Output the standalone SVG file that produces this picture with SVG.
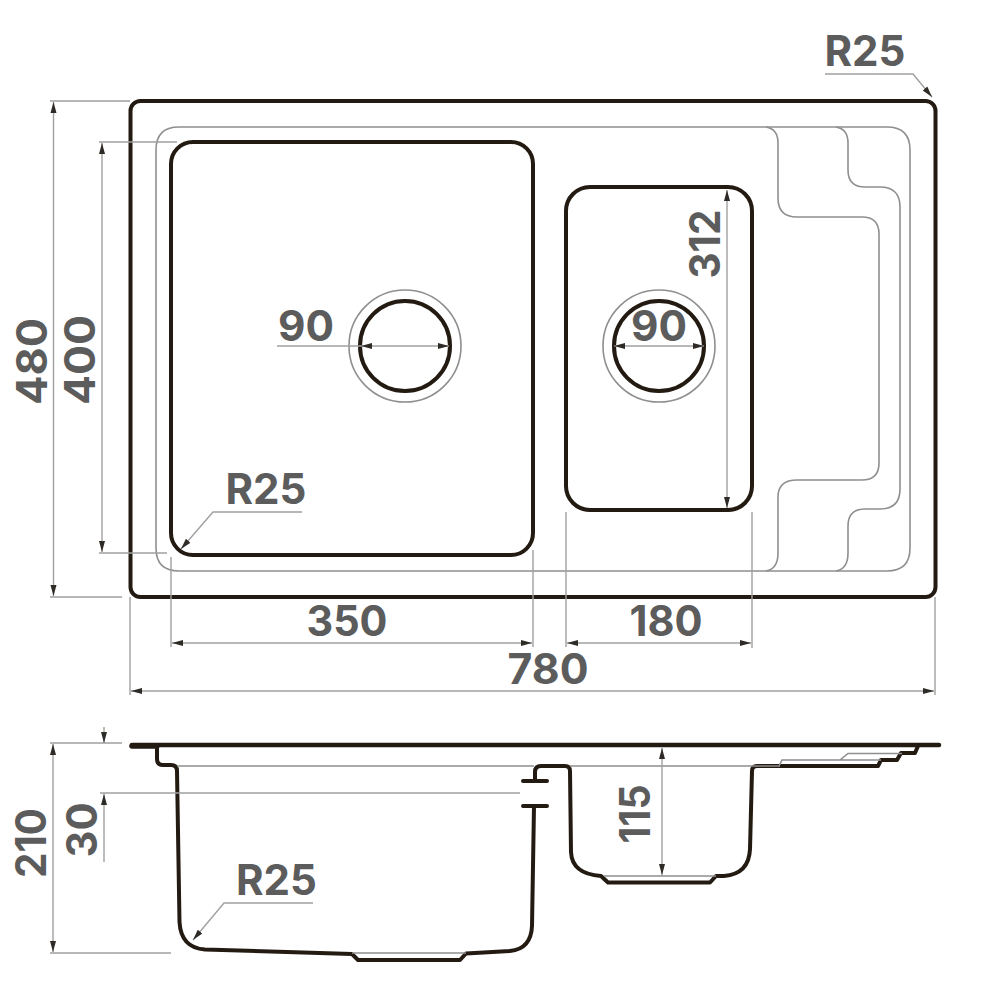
<svg xmlns="http://www.w3.org/2000/svg" width="1000" height="1000" viewBox="0 0 1000 1000">
<style>
.k{fill:none;stroke:#231a12;stroke-width:4;stroke-linejoin:round;stroke-linecap:round}
.g{fill:none;stroke:#8f8f8f;stroke-width:1.6}
.d{fill:none;stroke:#a0a0a0;stroke-width:1.4}
.a{marker-start:url(#ar);marker-end:url(#ar)}
.t{font-family:"Inter","Liberation Sans",sans-serif;font-weight:700;font-size:42px;fill:#5c5c5c;text-anchor:middle}
</style>
<defs>
<marker id="ar" markerUnits="userSpaceOnUse" markerWidth="14" markerHeight="8" refX="11" refY="4" orient="auto-start-reverse">
<path d="M0 1 L11 4 L0 7 Z" fill="#2e2a26"/>
</marker>
</defs>
<rect width="1000" height="1000" fill="#fff"/>

<g id="plan">
<rect class="k" x="130.500" y="101" width="805" height="496" rx="10"/>
<path class="g" d="M179 127H887Q910 127 910 150V548Q910 571 887 571H179Q156 571 156 548V150Q156 127 179 127Z"/>
<path class="g" d="M766 127Q778 129 778 143V198Q778 217 797 217H862Q879 217 879 234V463Q879 480 862 480H797Q778 480 778 497V553Q778 569 766 571"/>
<path class="g" d="M836 127Q848 129 848 143V170Q848 187 865 187H880Q900 187 900 207V489Q900 509 880 509H865Q848 509 848 526V553Q848 569 836 571"/>
<rect class="k" x="171" y="142" width="362" height="413" rx="22"/>
<rect class="k" x="566" y="187" width="186" height="323" rx="24"/>
<circle class="k" cx="405" cy="346" r="45"/>
<circle class="g" cx="405" cy="346" r="56"/>
<circle class="k" cx="659" cy="346" r="45"/>
<circle class="g" cx="659" cy="346" r="56"/>
</g>

<g id="section">
<path class="k" d="M132 745H939" style="stroke-width:4.500"/>
<path class="k" d="M132 746H157" style="stroke-width:5.500"/>
<path class="k" d="M157 747V759Q157 765 163 765H171Q177 765 177 771L179.500 922Q181 948 205 949.500L352 954L358 960H460L466 953.500L510 951Q531 949 532 926L534 806"/>
<path class="k" d="M523 806H547M523 781H547M535 781V772Q535 766 541 766H565Q570 766 570 771L571 852Q572 874 601 876L608 882.500H710L716 876H724Q749 874 750 849L752 771Q752 766 757 766H878L881 760H897L901 753H915L918 746"/>
<path class="g" d="M177 766H534M570 766H780M352 953H466M604 876H716"/>
<path class="g" d="M779 766L782 760H840L848 753.500H902M840 760H881"/>
</g>

<g id="connectors">
<path class="d" d="M50 101H130M50 597H122M99 142H177M99 553H167M171 557V647M533 550V647M566 512V647M752 512V648M130 597V695M935 597V695M50 743H122M50 953H171M100 743H122M100 793H520"/>
<line class="d a" x1="53.500" y1="102" x2="53.500" y2="596"/>
<line class="d a" x1="102" y1="143" x2="102" y2="552"/>
<line class="d a" x1="172" y1="643" x2="532" y2="643"/>
<line class="d a" x1="567" y1="643" x2="751" y2="643"/>
<line class="d a" x1="131" y1="691" x2="934" y2="691"/>
<line class="d a" x1="361" y1="346" x2="449" y2="346"/>
<line class="d" x1="277" y1="346" x2="361" y2="346"/>
<line class="d a" x1="614" y1="346" x2="704" y2="346"/>
<line class="d a" x1="727" y1="190" x2="727" y2="508"/>
<line class="d a" x1="53" y1="744" x2="53" y2="952"/>
<line class="d a" x1="662" y1="748" x2="662" y2="875"/>
<line class="d" x1="104" y1="727" x2="104" y2="743" marker-end="url(#ar)"/>
<line class="d" x1="104" y1="862" x2="104" y2="794" marker-end="url(#ar)"/>
<polyline class="d" points="825,74 913,74 932,97" marker-end="url(#ar)"/>
<polyline class="d" points="302,512 213,512 181,549" marker-end="url(#ar)"/>
<polyline class="d" points="313,903 224,903 193,940" marker-end="url(#ar)"/>
</g>

<g id="labels">
<text class="t" x="865" y="66" textLength="81" lengthAdjust="spacingAndGlyphs">R25</text>
<text class="t" x="266" y="504" textLength="81" lengthAdjust="spacingAndGlyphs">R25</text>
<text class="t" x="276.500" y="895" textLength="81" lengthAdjust="spacingAndGlyphs">R25</text>
<text class="t" x="347" y="636" textLength="81" lengthAdjust="spacingAndGlyphs">350</text>
<text class="t" x="666" y="636" textLength="73" lengthAdjust="spacingAndGlyphs">180</text>
<text class="t" x="548" y="684" textLength="81" lengthAdjust="spacingAndGlyphs">780</text>
<text class="t" x="306" y="341" textLength="56" lengthAdjust="spacingAndGlyphs">90</text>
<text class="t" x="659" y="341" textLength="56" lengthAdjust="spacingAndGlyphs">90</text>
<text class="t" transform="translate(47 361.500) rotate(-90)" textLength="87" lengthAdjust="spacingAndGlyphs">480</text>
<text class="t" transform="translate(95 360) rotate(-90)" textLength="90" lengthAdjust="spacingAndGlyphs">400</text>
<text class="t" transform="translate(720 244) rotate(-90)" textLength="69" lengthAdjust="spacingAndGlyphs">312</text>
<text class="t" transform="translate(46 843) rotate(-90)" textLength="70" lengthAdjust="spacingAndGlyphs">210</text>
<text class="t" transform="translate(97 830) rotate(-90)" textLength="55" lengthAdjust="spacingAndGlyphs">30</text>
<text class="t" transform="translate(650 814) rotate(-90)" textLength="59" lengthAdjust="spacingAndGlyphs">115</text>
</g>
</svg>
